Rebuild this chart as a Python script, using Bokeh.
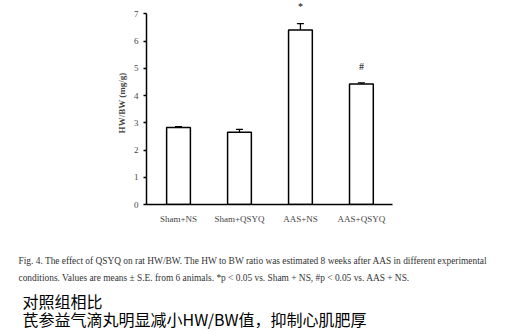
from bokeh.plotting import figure
from bokeh.layouts import column
from bokeh.models import Whisker, ColumnDataSource, FixedTicker, Range1d
from bokeh.core.properties import value
from bokeh.embed import file_html
from bokeh.resources import INLINE

groups = ["Sham+NS", "Sham+QSYQ", "AAS+NS", "AAS+QSYQ"]
means = [2.83, 2.65, 6.40, 4.42]
errors = [0.03, 0.11, 0.24, 0.04]
marks = ["", "", "*", "#"]
y_ticks = [0, 1, 2, 3, 4, 5, 6, 7]
caption_en = [
    "Fig. 4. The effect of QSYQ on rat HW/BW. The HW to BW ratio was estimated 8 weeks after AAS in different experimental",
    "conditions. Values are means \u00b1 S.E. from 6 animals. *p < 0.05 vs. Sham + NS, #p < 0.05 vs. AAS + NS.",
]
caption_zh = ["对照组相比", "芪参益气滴丸明显减小HW/BW值，抑制心肌肥厚"]

xs = list(range(1, len(groups) + 1))
upper = [m + e for m, e in zip(means, errors)]
src = ColumnDataSource(dict(x=xs, top=means, upper=upper))

H1 = 230
p = figure(width=517, height=H1, output_backend="svg", toolbar_location=None,
           x_range=Range1d(0.475, 4.51), y_range=Range1d(0, 7.45),
           min_border_left=146, min_border_right=125, min_border_top=1, min_border_bottom=H1 - 204)
p.frame_align = False
p.outline_line_color = None
p.xgrid.visible = False
p.ygrid.visible = False

p.vbar(x="x", top="top", bottom=0, width=0.39, source=src,
       fill_color="white", line_color="black", line_width=1.5)
w = Whisker(base="x", lower="top", upper="upper", source=src, line_color="black", line_width=1.3)
w.lower_head = None
w.upper_head.size = 7
w.upper_head.line_width = 1.3
p.add_layout(w)

mx = [x for x, s in zip(xs, marks) if s]
my = [u + 0.62 for u, s in zip(upper, marks) if s]
mt = [s for s in marks if s]
p.text(x=mx, y=my, text=mt, text_align="center", text_baseline="middle",
       text_font=value("Liberation Serif"), text_font_size="10px", text_color="black")

p.yaxis.ticker = FixedTicker(ticks=y_ticks)
p.yaxis.bounds = (0, 7)
p.yaxis.axis_label = "HW/BW (mg/g)"
p.yaxis.axis_label_text_font = "Liberation Serif"
p.yaxis.axis_label_text_font_style = "bold"
p.yaxis.axis_label_text_font_size = "9px"
p.yaxis.axis_label_standoff = 4
p.yaxis.major_label_text_font = "Liberation Serif"
p.yaxis.major_label_text_font_size = "9px"
p.yaxis.major_tick_out = 3
p.yaxis.major_tick_in = 0
p.yaxis.minor_tick_line_color = None
p.yaxis.axis_line_width = 1.5
p.yaxis.major_tick_line_width = 1.5

p.xaxis.ticker = FixedTicker(ticks=xs)
p.xaxis.major_label_overrides = {x: g for x, g in zip(xs, groups)}
p.xaxis.major_label_text_font = "Liberation Serif"
p.xaxis.major_label_text_font_size = "9px"
p.xaxis.major_tick_line_color = None
p.xaxis.minor_tick_line_color = None
p.xaxis.axis_line_width = 1.5
p.xaxis.major_label_standoff = 3

H2 = 332 - H1
q = figure(width=517, height=H2, output_backend="svg", toolbar_location=None,
           x_range=Range1d(0, 517), y_range=Range1d(H2, 0),
           min_border=0, min_border_left=0, min_border_right=0, min_border_top=0, min_border_bottom=0)
q.frame_align = False
q.axis.visible = False
q.xgrid.visible = False
q.ygrid.visible = False
q.outline_line_color = None

q.text(x=[18] * len(caption_en), y=[260 - H1 + i * 17 for i in range(len(caption_en))], text=caption_en,
       text_font=value("Liberation Serif"), text_font_size="9.4px", text_color="#333333",
       text_baseline="middle")
q.text(x=[22] * len(caption_zh), y=[300 - H1 + i * 18 for i in range(len(caption_zh))], text=caption_zh,
       text_font=value("Noto Sans CJK SC"), text_font_size="16px", text_color="black",
       text_baseline="middle")

layout = column(p, q, spacing=0)
open("out.html", "w").write(file_html(layout, INLINE))
